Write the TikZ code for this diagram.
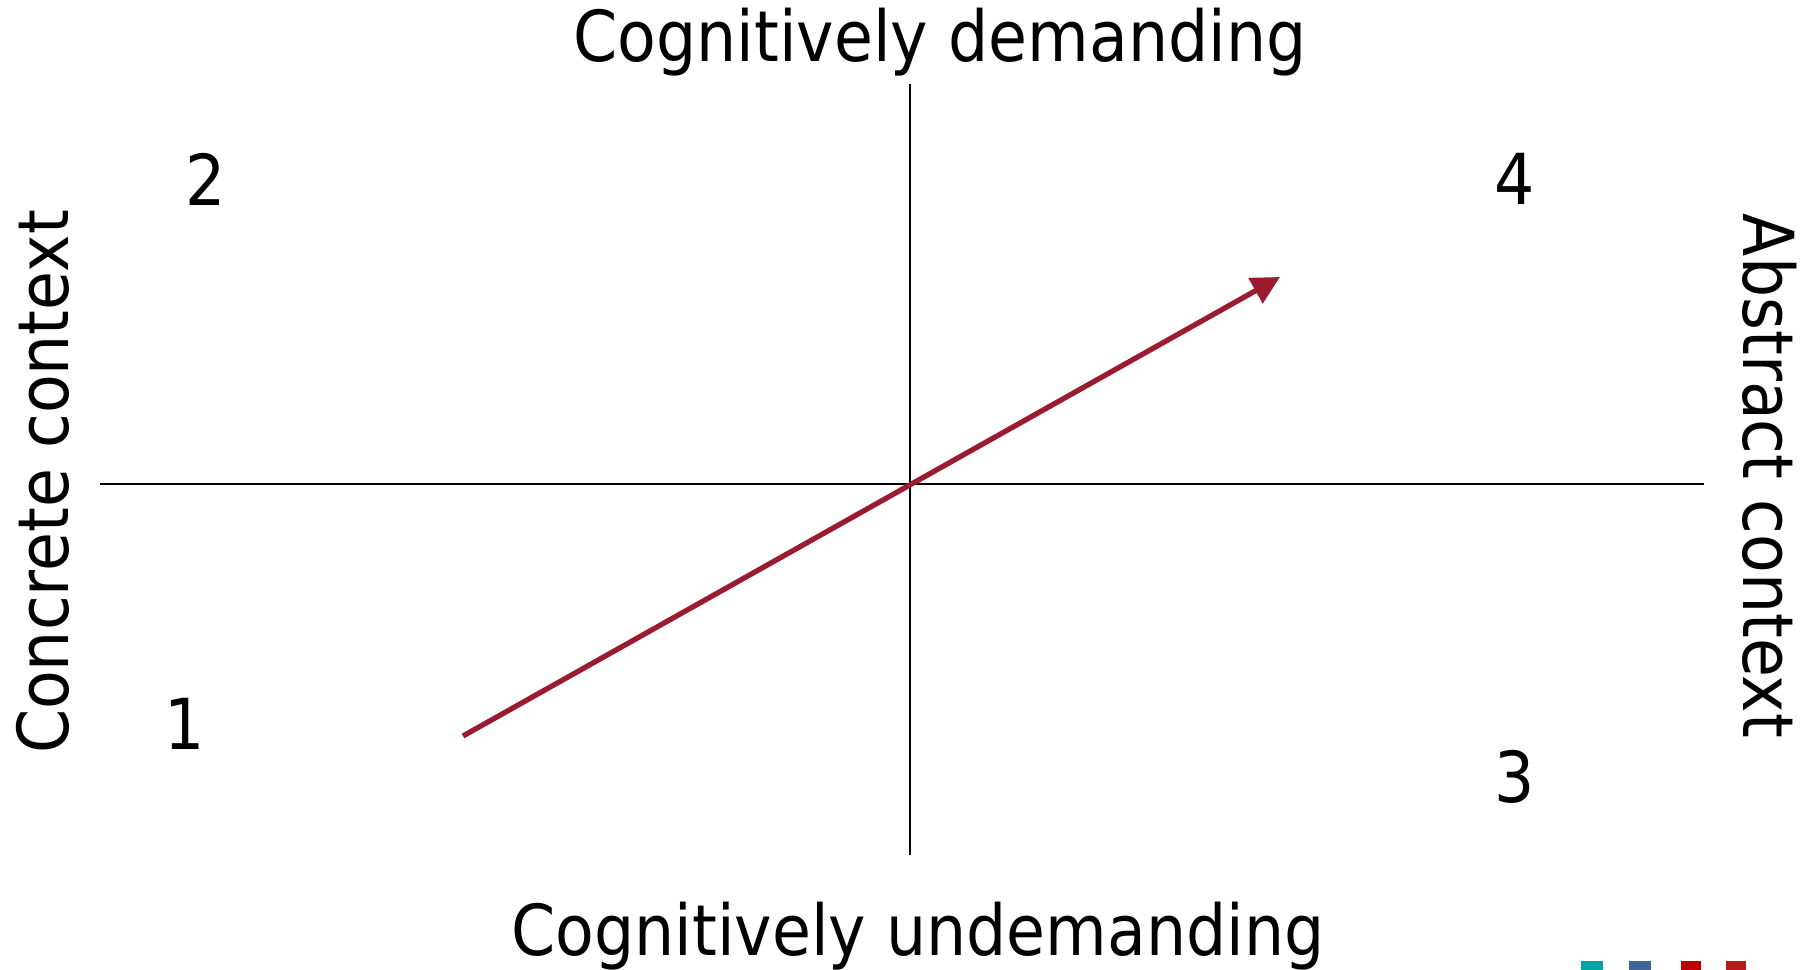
\documentclass[tikz,border=0pt]{standalone}
\usepackage{fontspec}
\setmainfont{DejaVu Sans}[FakeStretch=0.9]
\usepackage{xcolor}
\usetikzlibrary{arrows.meta,positioning}
\definecolor{arrowred}{HTML}{9B1B30}

\begin{document}
\begin{tikzpicture}[x=0.01cm,y=-0.01cm,
    lbl/.style={font=\fontsize{20}{24}\selectfont, inner sep=0pt},
    num/.style={font=\fontsize{20}{24}\selectfont, inner sep=0pt}]
    \useasboundingbox (0,0) rectangle (1811,970);
    \coordinate (top) at (910,84);
    \coordinate (bot) at (910,855);
    \coordinate (left) at (100,484);
    \coordinate (right) at (1704,484);
    \coordinate (start) at (463,736);
    \coordinate (tip) at (1280,277);
    \draw[line width=0.5pt] (top) -- (bot);
    \draw[line width=0.5pt] (left) -- (right);
    \draw[arrowred, line width=1.5pt, -{Triangle[length=8pt,width=8pt]}] (start) -- (tip);
    \node[lbl] (dem) at (940,42) {Cognitively demanding};
    \node[lbl] (undem) at (918,936) {Cognitively undemanding};
    \node[lbl, rotate=90] (conc) at (43,482) {Concrete context};
    \node[lbl, rotate=-90] (abst) at (1770,476) {Abstract context};
    \node[num] (q2) at (206,179) {2};
    \node[num] (q4) at (1515,179) {4};
    \node[num] (q1) at (185,724) {1};
    \node[num] (q3) at (1515,777) {3};
    % logo remnant
    \fill[teal!70!cyan] (1581,961) rectangle (1603,970);
    \fill[cyan!50!blue!70!black] (1629,961) rectangle (1651,970);
    \fill[red!75!black] (1681,961) rectangle (1701,970);
    \fill[red!70!black!90] (1726,961) rectangle (1746,970);
\end{tikzpicture}
\end{document}
